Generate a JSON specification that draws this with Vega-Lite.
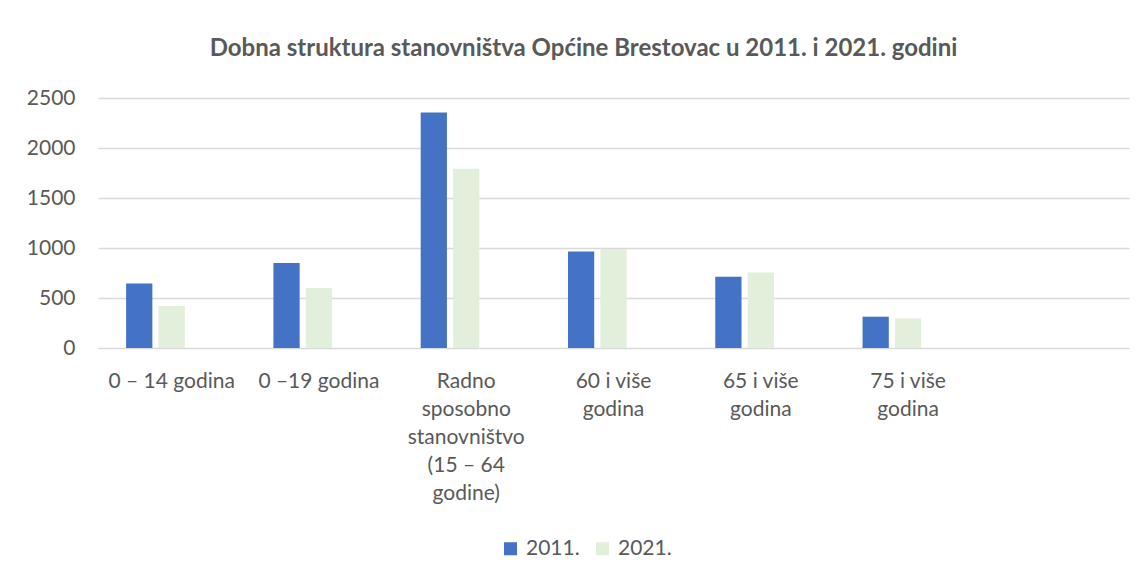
{
  "$schema": "https://vega.github.io/schema/vega-lite/v6.json",
  "width": 1031,
  "height": 250,
  "autosize": "none",
  "padding": {"left": 98, "top": 98, "right": 15, "bottom": 233},
  "background": "white",
  "title": {
    "text": "Dobna struktura stanovništva Općine Brestovac u 2011. i 2021. godini",
    "font": "Lato",
    "fontSize": 24,
    "fontWeight": "bold",
    "color": "#595959",
    "offset": 26,
    "dx": -30
  },
  "data": {
    "values": [
      {"kategorija": "0 – 14 godina", "godina": "2011.", "broj": 645},
      {"kategorija": "0 – 14 godina", "godina": "2021.", "broj": 420},
      {"kategorija": "0 –19 godina", "godina": "2011.", "broj": 850},
      {"kategorija": "0 –19 godina", "godina": "2021.", "broj": 600},
      {"kategorija": "Radno sposobno stanovništvo (15 – 64 godine)", "godina": "2011.", "broj": 2356},
      {"kategorija": "Radno sposobno stanovništvo (15 – 64 godine)", "godina": "2021.", "broj": 1793},
      {"kategorija": "60 i više godina", "godina": "2011.", "broj": 966},
      {"kategorija": "60 i više godina", "godina": "2021.", "broj": 990},
      {"kategorija": "65 i više godina", "godina": "2011.", "broj": 713},
      {"kategorija": "65 i više godina", "godina": "2021.", "broj": 756},
      {"kategorija": "75 i više godina", "godina": "2011.", "broj": 313},
      {"kategorija": "75 i više godina", "godina": "2021.", "broj": 296}
    ]
  },
  "mark": {"type": "bar"},
  "encoding": {
    "x": {
      "field": "kategorija",
      "type": "nominal",
      "scale": {
        "domain": ["0 – 14 godina", "0 –19 godina", "Radno sposobno stanovništvo (15 – 64 godine)", "60 i više godina", "65 i više godina", "75 i više godina", " "],
        "paddingInner": 0.34,
        "paddingOuter": 0.17
      },
      "axis": {
        "title": null,
        "labelAngle": 0,
        "ticks": false,
        "domain": false,
        "grid": false,
        "labelPadding": 22,
        "labelBaseline": "top",
        "labelLineHeight": 28,
        "labelLimit": 0,
        "labelFontSize": 21,
        "labelExpr": "datum.value == 'Radno sposobno stanovništvo (15 – 64 godine)' ? ['Radno', 'sposobno', 'stanovništvo', '(15 – 64', 'godine)'] : indexof(datum.value, 'više') > 0 ? [substring(datum.value, 0, 9), 'godina'] : datum.value"
      }
    },
    "xOffset": {
      "field": "godina",
      "scale": {"domain": ["2011.", "2021.", "_"], "paddingInner": 0.19, "paddingOuter": 0.095}
    },
    "y": {
      "field": "broj",
      "type": "quantitative",
      "scale": {"domain": [0, 2500], "nice": false},
      "axis": {
        "title": null,
        "values": [0, 500, 1000, 1500, 2000, 2500],
        "format": "d",
        "ticks": false,
        "domain": false,
        "labelPadding": 23,
        "labelFontSize": 21,
        "gridColor": "#D9D9D9",
        "gridWidth": 1.3
      }
    },
    "color": {
      "field": "godina",
      "type": "nominal",
      "scale": {"domain": ["2011.", "2021."], "range": ["#4472C4", "#E2EFDA"]},
      "legend": {
        "title": null,
        "orient": "none",
        "legendX": 402,
        "legendY": 440,
        "direction": "horizontal",
        "symbolType": "square",
        "symbolSize": 170,
        "symbolStrokeWidth": 0,
        "labelFontSize": 21,
        "columnPadding": 12,
        "labelOffset": 5
      }
    }
  },
  "config": {
    "font": "Lato",
    "view": {"stroke": null},
    "axis": {"labelFont": "Lato", "labelColor": "#595959"},
    "legend": {"labelFont": "Lato", "labelColor": "#595959"}
  }
}
